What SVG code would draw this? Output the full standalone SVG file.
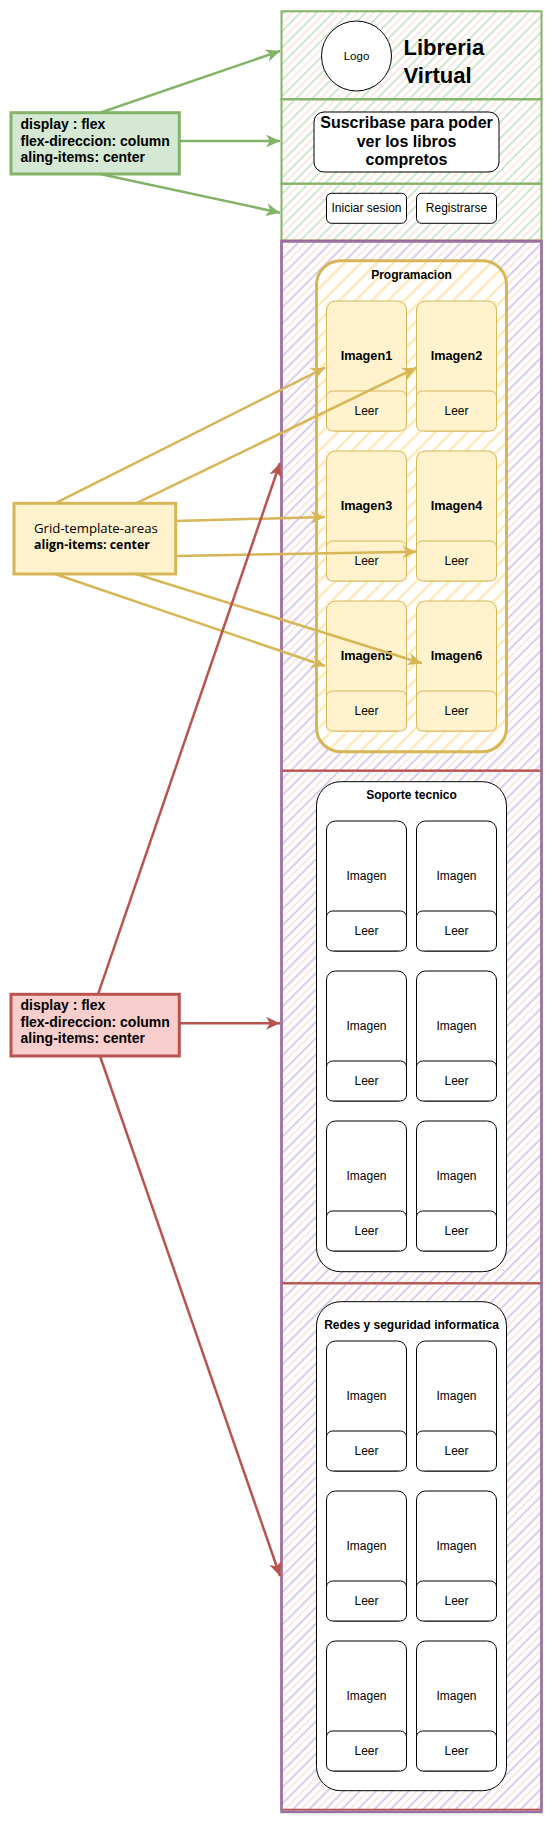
<svg xmlns="http://www.w3.org/2000/svg" width="556" height="1825" viewBox="0 0 556 1825">
<style>
.t{font-family:"Liberation Sans",Arial,Helvetica,sans-serif;fill:#000}
.b{font-weight:bold}
.c{text-anchor:middle}
.note{font-size:14px;font-weight:bold}
.ttl{font-size:12px;font-weight:bold}
.lbl{font-size:12px}
.ylab{font-size:12.7px;font-weight:bold}
.pcard{fill:#fff2cc;stroke:#d6b656;stroke-width:1}
.wcard{fill:#ffffff;stroke:#000;stroke-width:1}
.edge{fill:none;stroke-width:2.5}
</style>
<defs>
<pattern id="hGreen" width="11.5" height="11.5" patternUnits="userSpaceOnUse" patternTransform="rotate(45)">
<line x1="3" y1="0" x2="3" y2="11.5" stroke="#cde2c4" stroke-width="1.8"/>
<line x1="8.7" y1="0" x2="8.7" y2="11.5" stroke="#f6d2cf" stroke-width="1"/>
</pattern>
<pattern id="hPurple" width="11.5" height="11.5" patternUnits="userSpaceOnUse" patternTransform="rotate(45)">
<line x1="3" y1="0" x2="3" y2="11.5" stroke="#d9cbe6" stroke-width="2"/>
<line x1="8.7" y1="0" x2="8.7" y2="11.5" stroke="#f6cfcc" stroke-width="1"/>
</pattern>
<pattern id="hYellow" width="11.5" height="11.5" patternUnits="userSpaceOnUse" patternTransform="rotate(45)">
<line x1="4" y1="0" x2="4" y2="11.5" stroke="#fde9b8" stroke-width="2.5"/>
</pattern>
<marker id="aG" markerUnits="userSpaceOnUse" markerWidth="16" markerHeight="14" refX="14" refY="6.5" orient="auto"><path d="M0,0 L14,6.5 L0,13 L4,6.5 Z" fill="#82b366"/></marker>
<marker id="aY" markerUnits="userSpaceOnUse" markerWidth="16" markerHeight="14" refX="14" refY="6.5" orient="auto"><path d="M0,0 L14,6.5 L0,13 L4,6.5 Z" fill="#d6b656"/></marker>
<marker id="aR" markerUnits="userSpaceOnUse" markerWidth="16" markerHeight="14" refX="14" refY="6.5" orient="auto"><path d="M0,0 L14,6.5 L0,13 L4,6.5 Z" fill="#b85450"/></marker>
</defs>
<rect width="556" height="1825" fill="#ffffff"/>

<!-- header sections -->
<g id="header-top">
<rect x="281.5" y="11.3" width="260" height="88" fill="url(#hGreen)" stroke="#82b366" stroke-width="2"/>
<circle cx="356.5" cy="56" r="35" fill="#ffffff" stroke="#000" stroke-width="1"/>
<text class="t c" x="356.5" y="60" font-size="11.5">Logo</text>
<text class="t b" x="403.5" y="55" font-size="22">Libreria</text>
<text class="t b" x="403.5" y="82.5" font-size="22">Virtual</text>
</g>
<g id="header-subscribe">
<rect x="281.5" y="99.3" width="260" height="84.4" fill="url(#hGreen)" stroke="#82b366" stroke-width="2"/>
<rect x="314" y="112" width="185" height="60" rx="10" fill="#ffffff" stroke="#000" stroke-width="1"/>
<text class="t b c" x="406.5" y="128.3" font-size="16">Suscribase para poder</text>
<text class="t b c" x="406.5" y="146.7" font-size="16">ver los libros</text>
<text class="t b c" x="406.5" y="165" font-size="16">compretos</text>
</g>
<g id="header-buttons">
<rect x="281.5" y="183.7" width="260" height="57" fill="url(#hGreen)" stroke="#82b366" stroke-width="2"/>
<rect x="326.5" y="193.3" width="80" height="30" rx="5" fill="#ffffff" stroke="#000" stroke-width="1"/>
<text class="t c lbl" x="366.5" y="212">Iniciar sesion</text>
<rect x="416.5" y="193.3" width="80" height="30" rx="5" fill="#ffffff" stroke="#000" stroke-width="1"/>
<text class="t c lbl" x="456.5" y="212">Registrarse</text>
</g>

<!-- main column -->
<g id="main-column">
<rect x="281.5" y="240.7" width="260" height="530" fill="url(#hPurple)" stroke="#b85450" stroke-width="2"/>
<rect x="281.5" y="770.7" width="260" height="512.6" fill="url(#hPurple)" stroke="#b85450" stroke-width="2"/>
<rect x="281.5" y="1283.3" width="260" height="526.4" fill="url(#hPurple)" stroke="#b85450" stroke-width="2"/>
<rect x="281.5" y="241.5" width="260" height="1570.5" fill="none" stroke="#9673a6" stroke-width="2.5"/>
</g>

<!-- Programacion -->
<g id="programacion">
<rect x="316.5" y="260.7" width="190" height="491" rx="24" fill="#ffffff" stroke="none"/>
<rect x="316.5" y="260.7" width="190" height="491" rx="24" fill="url(#hYellow)" stroke="#d6b656" stroke-width="3"/>
<text class="t c ttl" x="411.5" y="279">Programacion</text>
</g>
<g id="prog-card1">
<rect x="326.5" y="301" width="80" height="130" fill="#fff2cc"/>
<rect class="pcard" x="326.5" y="301" width="80" height="130" rx="9"/>
<rect class="pcard" x="326.5" y="391" width="80" height="40" rx="6"/>
<text class="t c ylab" x="366.5" y="360">Imagen1</text>
<text class="t c lbl" x="366.5" y="414.7">Leer</text>
</g>
<g id="prog-card2">
<rect x="416.5" y="301" width="80" height="130" fill="#fff2cc"/>
<rect class="pcard" x="416.5" y="301" width="80" height="130" rx="9"/>
<rect class="pcard" x="416.5" y="391" width="80" height="40" rx="6"/>
<text class="t c ylab" x="456.5" y="360">Imagen2</text>
<text class="t c lbl" x="456.5" y="414.7">Leer</text>
</g>
<g id="prog-card3">
<rect x="326.5" y="451" width="80" height="130" fill="#fff2cc"/>
<rect class="pcard" x="326.5" y="451" width="80" height="130" rx="9"/>
<rect class="pcard" x="326.5" y="541" width="80" height="40" rx="6"/>
<text class="t c ylab" x="366.5" y="510">Imagen3</text>
<text class="t c lbl" x="366.5" y="564.7">Leer</text>
</g>
<g id="prog-card4">
<rect x="416.5" y="451" width="80" height="130" fill="#fff2cc"/>
<rect class="pcard" x="416.5" y="451" width="80" height="130" rx="9"/>
<rect class="pcard" x="416.5" y="541" width="80" height="40" rx="6"/>
<text class="t c ylab" x="456.5" y="510">Imagen4</text>
<text class="t c lbl" x="456.5" y="564.7">Leer</text>
</g>
<g id="prog-card5">
<rect x="326.5" y="601" width="80" height="130" fill="#fff2cc"/>
<rect class="pcard" x="326.5" y="601" width="80" height="130" rx="9"/>
<rect class="pcard" x="326.5" y="691" width="80" height="40" rx="6"/>
<text class="t c ylab" x="366.5" y="660">Imagen5</text>
<text class="t c lbl" x="366.5" y="714.7">Leer</text>
</g>
<g id="prog-card6">
<rect x="416.5" y="601" width="80" height="130" fill="#fff2cc"/>
<rect class="pcard" x="416.5" y="601" width="80" height="130" rx="9"/>
<rect class="pcard" x="416.5" y="691" width="80" height="40" rx="6"/>
<text class="t c ylab" x="456.5" y="660">Imagen6</text>
<text class="t c lbl" x="456.5" y="714.7">Leer</text>
</g>

<!-- Soporte tecnico -->
<g id="soporte">
<rect x="316.5" y="781.7" width="190" height="490" rx="24" fill="#ffffff" stroke="#000" stroke-width="1"/>
<text class="t c ttl" x="411.5" y="799.3">Soporte tecnico</text>
</g>
<g id="sop-card1">
<rect class="wcard" x="326.5" y="821" width="80" height="130" rx="9"/>
<rect class="wcard" x="326.5" y="911" width="80" height="40" rx="6"/>
<text class="t c lbl" x="366.5" y="880">Imagen</text>
<text class="t c lbl" x="366.5" y="934.7">Leer</text>
</g>
<g id="sop-card2">
<rect class="wcard" x="416.5" y="821" width="80" height="130" rx="9"/>
<rect class="wcard" x="416.5" y="911" width="80" height="40" rx="6"/>
<text class="t c lbl" x="456.5" y="880">Imagen</text>
<text class="t c lbl" x="456.5" y="934.7">Leer</text>
</g>
<g id="sop-card3">
<rect class="wcard" x="326.5" y="971" width="80" height="130" rx="9"/>
<rect class="wcard" x="326.5" y="1061" width="80" height="40" rx="6"/>
<text class="t c lbl" x="366.5" y="1030">Imagen</text>
<text class="t c lbl" x="366.5" y="1084.7">Leer</text>
</g>
<g id="sop-card4">
<rect class="wcard" x="416.5" y="971" width="80" height="130" rx="9"/>
<rect class="wcard" x="416.5" y="1061" width="80" height="40" rx="6"/>
<text class="t c lbl" x="456.5" y="1030">Imagen</text>
<text class="t c lbl" x="456.5" y="1084.7">Leer</text>
</g>
<g id="sop-card5">
<rect class="wcard" x="326.5" y="1121" width="80" height="130" rx="9"/>
<rect class="wcard" x="326.5" y="1211" width="80" height="40" rx="6"/>
<text class="t c lbl" x="366.5" y="1180">Imagen</text>
<text class="t c lbl" x="366.5" y="1234.7">Leer</text>
</g>
<g id="sop-card6">
<rect class="wcard" x="416.5" y="1121" width="80" height="130" rx="9"/>
<rect class="wcard" x="416.5" y="1211" width="80" height="40" rx="6"/>
<text class="t c lbl" x="456.5" y="1180">Imagen</text>
<text class="t c lbl" x="456.5" y="1234.7">Leer</text>
</g>

<!-- Redes y seguridad informatica -->
<g id="redes">
<rect x="316.5" y="1301.7" width="190" height="489" rx="24" fill="#ffffff" stroke="#000" stroke-width="1"/>
<text class="t c ttl" x="411.5" y="1329.3">Redes y seguridad informatica</text>
</g>
<g id="red-card1">
<rect class="wcard" x="326.5" y="1341" width="80" height="130" rx="9"/>
<rect class="wcard" x="326.5" y="1431" width="80" height="40" rx="6"/>
<text class="t c lbl" x="366.5" y="1400">Imagen</text>
<text class="t c lbl" x="366.5" y="1454.7">Leer</text>
</g>
<g id="red-card2">
<rect class="wcard" x="416.5" y="1341" width="80" height="130" rx="9"/>
<rect class="wcard" x="416.5" y="1431" width="80" height="40" rx="6"/>
<text class="t c lbl" x="456.5" y="1400">Imagen</text>
<text class="t c lbl" x="456.5" y="1454.7">Leer</text>
</g>
<g id="red-card3">
<rect class="wcard" x="326.5" y="1491" width="80" height="130" rx="9"/>
<rect class="wcard" x="326.5" y="1581" width="80" height="40" rx="6"/>
<text class="t c lbl" x="366.5" y="1550">Imagen</text>
<text class="t c lbl" x="366.5" y="1604.7">Leer</text>
</g>
<g id="red-card4">
<rect class="wcard" x="416.5" y="1491" width="80" height="130" rx="9"/>
<rect class="wcard" x="416.5" y="1581" width="80" height="40" rx="6"/>
<text class="t c lbl" x="456.5" y="1550">Imagen</text>
<text class="t c lbl" x="456.5" y="1604.7">Leer</text>
</g>
<g id="red-card5">
<rect class="wcard" x="326.5" y="1641" width="80" height="130" rx="9"/>
<rect class="wcard" x="326.5" y="1731" width="80" height="40" rx="6"/>
<text class="t c lbl" x="366.5" y="1700">Imagen</text>
<text class="t c lbl" x="366.5" y="1754.7">Leer</text>
</g>
<g id="red-card6">
<rect class="wcard" x="416.5" y="1641" width="80" height="130" rx="9"/>
<rect class="wcard" x="416.5" y="1731" width="80" height="40" rx="6"/>
<text class="t c lbl" x="456.5" y="1700">Imagen</text>
<text class="t c lbl" x="456.5" y="1754.7">Leer</text>
</g>

<!-- annotation boxes -->
<g id="note-green">
<rect x="11" y="112.7" width="168.3" height="61.3" fill="#d5e8d4" stroke="#82b366" stroke-width="3"/>
<text class="t note" x="20.5" y="129.3">display : flex</text>
<text class="t note" x="20.5" y="145.7">flex-direccion: column</text>
<text class="t note" x="20.5" y="162.3">aling-items: center</text>
</g>
<g id="note-yellow">
<rect x="14" y="503.3" width="161.7" height="70.7" fill="#fff2cc" stroke="#d6b656" stroke-width="3"/>
<text x="34" y="532.7" font-family="'Open Sans','Noto Sans',sans-serif" font-size="13.2" fill="#000">Grid-template-areas</text>
<text x="34" y="549.3" font-family="'Open Sans','Noto Sans',sans-serif" font-size="12.4" font-weight="bold" fill="#000">align-items: center</text>
</g>
<g id="note-red">
<rect x="11" y="994.3" width="168.3" height="61.7" fill="#f8cecc" stroke="#b85450" stroke-width="3"/>
<text class="t note" x="20.5" y="1010">display : flex</text>
<text class="t note" x="20.5" y="1026.7">flex-direccion: column</text>
<text class="t note" x="20.5" y="1043.3">aling-items: center</text>
</g>

<!-- connectors -->
<g id="connectors">
<line class="edge" stroke="#82b366" x1="100" y1="112.7" x2="280" y2="51" marker-end="url(#aG)"/>
<line class="edge" stroke="#82b366" x1="179.3" y1="141" x2="280" y2="141" marker-end="url(#aG)"/>
<line class="edge" stroke="#82b366" x1="100" y1="174" x2="280" y2="212.7" marker-end="url(#aG)"/>
<line class="edge" stroke="#d6b656" x1="55" y1="503.3" x2="325" y2="367.7" marker-end="url(#aY)"/>
<line class="edge" stroke="#d6b656" x1="136" y1="503.3" x2="416.5" y2="367.7" marker-end="url(#aY)"/>
<line class="edge" stroke="#d6b656" x1="175.7" y1="521" x2="325" y2="517" marker-end="url(#aY)"/>
<line class="edge" stroke="#d6b656" x1="175.7" y1="556" x2="416.5" y2="551.7" marker-end="url(#aY)"/>
<line class="edge" stroke="#d6b656" x1="55" y1="574" x2="325" y2="666" marker-end="url(#aY)"/>
<line class="edge" stroke="#d6b656" x1="136" y1="574" x2="421.7" y2="663.3" marker-end="url(#aY)"/>
<line class="edge" stroke="#b85450" x1="98" y1="994.3" x2="280" y2="463" marker-end="url(#aR)"/>
<line class="edge" stroke="#b85450" x1="179.3" y1="1023.3" x2="280" y2="1023.3" marker-end="url(#aR)"/>
<line class="edge" stroke="#b85450" x1="100" y1="1056" x2="280" y2="1576" marker-end="url(#aR)"/>
</g>
</svg>
